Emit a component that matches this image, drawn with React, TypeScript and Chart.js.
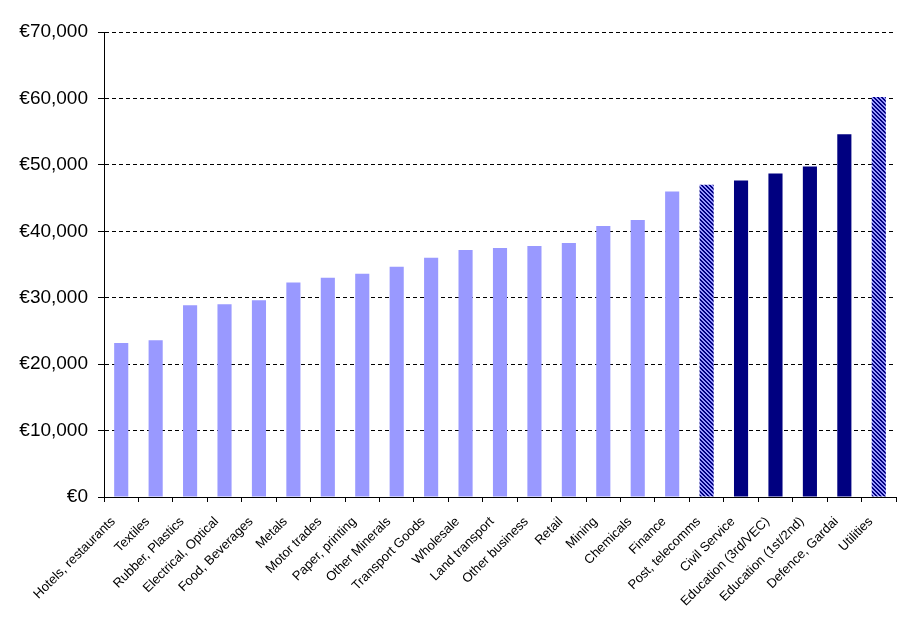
import React, { useEffect, useRef } from "react";
import { Chart, registerables } from "chart.js";

Chart.register(...registerables);

const categories = [
  "Hotels, restaurants",
  "Textiles",
  "Rubber, Plastics",
  "Electrical, Optical",
  "Food, Beverages",
  "Metals",
  "Motor trades",
  "Paper, printing",
  "Other Minerals",
  "Transport Goods",
  "Wholesale",
  "Land transport",
  "Other business",
  "Retail",
  "Mining",
  "Chemicals",
  "Finance",
  "Post, telecomms",
  "Civil Service",
  "Education (3rd/VEC)",
  "Education (1st/2nd)",
  "Defence, Gardai",
  "Utilities",
];

const earnings = [
  23200, 23600, 28850, 29000, 29600, 32300, 33000, 33600, 34650, 36000, 37200,
  37500, 37800, 38250, 40800, 41700, 46000, 47000, 47650, 48700, 49750, 54600,
  60200,
];

// sector group of each category: private, semi-state, public
const sectorGroup = [
  "private", "private", "private", "private", "private", "private", "private",
  "private", "private", "private", "private", "private", "private", "private",
  "private", "private", "private", "semi", "public", "public", "public",
  "public", "semi",
];

const yTicksMin = 0;
const yTicksMax = 70000;
const yTicksStep = 10000;

const LIGHT = "#9999FF";
const DARK = "#000080";

function makeHatch(): CanvasPattern | string {
  const c = document.createElement("canvas");
  c.width = 4;
  c.height = 4;
  const ctx = c.getContext("2d");
  if (!ctx) return LIGHT;
  const img = ctx.createImageData(4, 4);
  for (let y = 0; y < 4; y++) {
    for (let x = 0; x < 4; x++) {
      const dark = (x - y + 8) % 4 < 2;
      const i = (y * 4 + x) * 4;
      if (dark) {
        img.data[i] = 0x00; img.data[i + 1] = 0x00; img.data[i + 2] = 0x80;
      } else {
        img.data[i] = 0x99; img.data[i + 1] = 0x99; img.data[i + 2] = 0xff;
      }
      img.data[i + 3] = 255;
    }
  }
  ctx.putImageData(img, 0, 0);
  return ctx.createPattern(c, "repeat") || LIGHT;
}

export default function App() {
  const ref = useRef<HTMLCanvasElement | null>(null);

  useEffect(() => {
    if (!ref.current) return;
    const hatch = makeHatch();
    const colors = sectorGroup.map((g) =>
      g === "private" ? LIGHT : g === "public" ? DARK : hatch
    );
    const chart = new Chart(ref.current, {
      type: "bar",
      data: {
        labels: categories,
        datasets: [
          {
            data: earnings,
            backgroundColor: colors as any,
            borderWidth: 0,
            categoryPercentage: 1,
            barPercentage: 0.41,
          },
        ],
      },
      options: {
        animation: false,
        responsive: true,
        maintainAspectRatio: false,
        layout: { padding: { top: 32, right: 15, left: 0, bottom: 0 } },
        plugins: {
          legend: { display: false },
          tooltip: { enabled: false },
        },
        scales: {
          x: {
            type: "category",
            offset: true,
            grid: {
              offset: true,
              drawOnChartArea: false,
              drawTicks: true,
              tickLength: 5,
              color: "#000",
              tickColor: "#000",
            },
            border: { display: true, color: "#000", width: 1 },
            ticks: {
              autoSkip: false,
              maxRotation: 45,
              minRotation: 45,
              color: "#000",
              padding: 12,
              labelOffset: -8,
              font: { family: "'Liberation Sans', Arial, sans-serif", size: 13 },
            },
            afterFit: (scale: any) => {
              scale.height = 126;
            },
          },
          y: {
            min: yTicksMin,
            max: yTicksMax,
            ticks: {
              stepSize: yTicksStep,
              color: "#000",
              padding: 10,
              font: { family: "'Liberation Sans', Arial, sans-serif", size: 19 },
              callback: (v: any) => "€" + Number(v).toLocaleString("en-US"),
            },
            grid: {
              color: "#000",
              lineWidth: 1,
              tickLength: 6,
              tickColor: "#000",
              tickBorderDash: [],
            },
            border: { display: true, color: "#000", width: 1, dash: [4, 3] },
            afterFit: (scale: any) => {
              scale.width = 104;
            },
          },
        },
      },
    });
    return () => chart.destroy();
  }, []);

  return (
    <div
      style={{
        position: "fixed",
        left: 0,
        top: 0,
        width: 911,
        height: 623,
        background: "#fff",
      }}
    >
      <canvas ref={ref} />
    </div>
  );
}
